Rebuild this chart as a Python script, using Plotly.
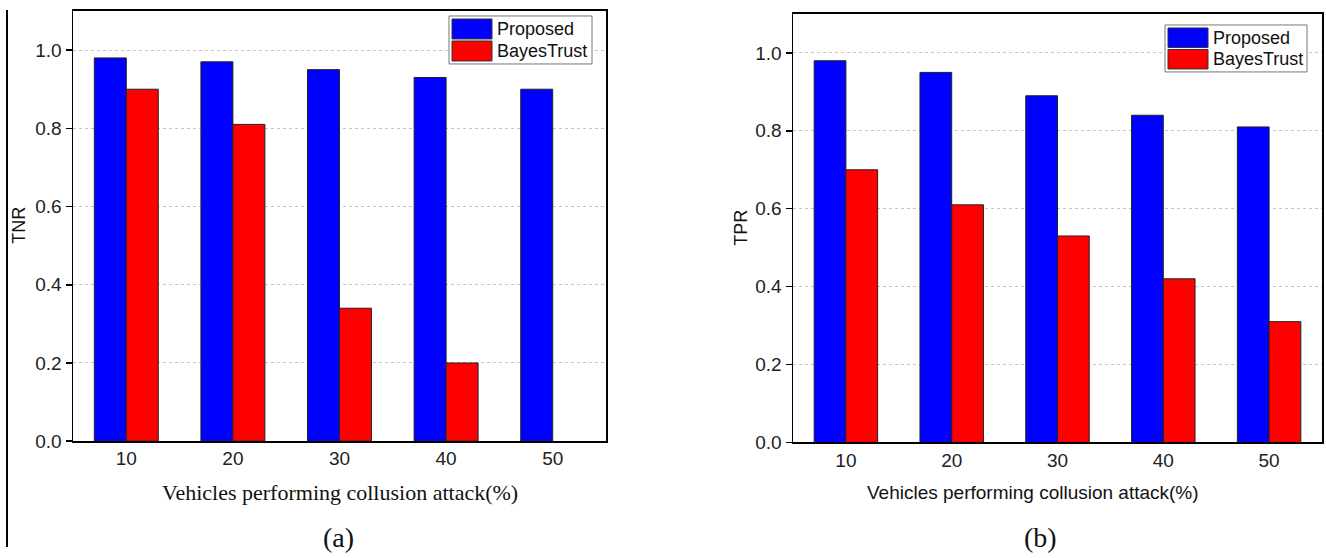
import plotly.graph_objects as go

categories = [10, 20, 30, 40, 50]
series_names = ["Proposed", "BayesTrust"]
tnr_proposed = [0.98, 0.97, 0.95, 0.93, 0.90]
tnr_bayes = [0.90, 0.81, 0.34, 0.20, None]
tpr_proposed = [0.98, 0.95, 0.89, 0.84, 0.81]
tpr_bayes = [0.70, 0.61, 0.53, 0.42, 0.31]
y_ticks = [0.0, 0.2, 0.4, 0.6, 0.8, 1.0]
colors = ["#0000FF", "#FF0000"]

W, H = 1326, 558
YS = 0.981  # vertical compression observed in the photographed page
SANS = "Liberation Sans, Arial, sans-serif"
SERIF = "Liberation Serif, Times New Roman, serif"

fig = go.Figure()

def px_x(v):
    return v / W

def px_y(v):
    return min(1.0, max(0.0, 1 - (v / YS) / H))

panels = [
    dict(xa="x", ya="y", vals=[tnr_proposed, tnr_bayes]),
    dict(xa="x2", ya="y2", vals=[tpr_proposed, tpr_bayes]),
]
for p in panels:
    for name, vals, c in zip(series_names, p["vals"], colors):
        fig.add_trace(go.Bar(
            x=categories, y=vals, name=name, xaxis=p["xa"], yaxis=p["ya"],
            marker=dict(color=c, line=dict(color="#222222", width=1)),
            showlegend=False, offsetgroup=name, hoverinfo="skip",
        ))

xcommon = dict(range=[5, 55], tickvals=categories, ticks="", showline=True,
               mirror=True, linecolor="black", linewidth=1.5, showgrid=False,
               zeroline=False, tickfont=dict(family=SANS, size=19, color="#222"))
ycommon = dict(range=[0, 1.1], tickvals=y_ticks, tickformat=".1f", ticks="outside",
               ticklen=6, tickwidth=1.5, tickcolor="black", showline=True, mirror=True,
               linecolor="black", linewidth=1.5, showgrid=True, gridcolor="#c4c4c4",
               griddash="3px,3px", gridwidth=1, zeroline=False,
               tickfont=dict(family=SANS, size=19, color="#222"))

fig.update_layout(
    width=W, height=H, margin=dict(l=0, r=0, t=0, b=0),
    paper_bgcolor="white", plot_bgcolor="white",
    barmode="group", bargap=0.4, bargroupgap=0,
    xaxis=dict(domain=[px_x(73), px_x(606)], anchor="y", **xcommon),
    yaxis=dict(domain=[px_y(441.5), px_y(11)], anchor="x", **ycommon),
    xaxis2=dict(domain=[px_x(793), px_x(1322)], anchor="y2", **xcommon),
    yaxis2=dict(domain=[px_y(442.7), px_y(14)], anchor="x2", **ycommon),
)

shapes = []
annotations = []
# left border line
shapes.append(dict(type="line", xref="paper", yref="paper", x0=px_x(7), x1=px_x(7),
                   y0=px_y(10), y1=0, line=dict(color="black", width=2)))

def ann(x, y, text, font, angle=0):
    annotations.append(dict(xref="paper", yref="paper", x=px_x(x), y=px_y(y), text=text,
                            textangle=angle, showarrow=False, xanchor="center",
                            yanchor="middle", font=font))

# custom legends
def legend(x0, y0, x1, y1):
    shapes.append(dict(type="rect", xref="paper", yref="paper",
                       x0=px_x(x0), x1=px_x(x1), y0=px_y(y1), y1=px_y(y0),
                       line=dict(color="#777777", width=1), fillcolor="white"))
    rowh = (y1 - y0 - 4) / 2
    for i, (name, c) in enumerate(zip(series_names, colors)):
        ty = y0 + 2 + i * rowh
        shapes.append(dict(type="rect", xref="paper", yref="paper",
                           x0=px_x(x0 + 3), x1=px_x(x0 + 43),
                           y0=px_y(ty + rowh - 1), y1=px_y(ty + 1),
                           line=dict(color="#333333", width=1), fillcolor=c))
        annotations.append(dict(xref="paper", yref="paper", x=px_x(x0 + 46),
                                y=px_y(ty + rowh / 2), text=name, showarrow=False,
                                xanchor="left", yanchor="middle",
                                font=dict(family=SANS, size=18, color="#111")))

legend(449, 16, 592, 64)
legend(1165, 25, 1307, 72)

# axis titles & captions
ann(19, 226, "TNR", dict(family=SANS, size=18, color="#111"), -90)
ann(741, 228, "TPR", dict(family=SANS, size=18, color="#111"), -90)
ann(340, 493, "Vehicles performing collusion attack(%)", dict(family=SERIF, size=22, color="#111"))
ann(1033, 493, "Vehicles performing collusion attack(%)", dict(family=SANS, size=19, color="#111"))
ann(338, 538, "(a)", dict(family=SERIF, size=28, color="#111"))
ann(1040, 538, "(b)", dict(family=SERIF, size=28, color="#111"))

fig.update_layout(shapes=shapes, annotations=annotations)
fig.write_html(
    "out.html",
    config={"displayModeBar": False, "staticPlot": True},
    post_script=("var s=document.body.style;s.margin='0';s.padding='0';s.overflow='hidden';"
                 "s.fontSize='0';s.lineHeight='0';"
                 "document.documentElement.style.overflow='hidden';"),
)
